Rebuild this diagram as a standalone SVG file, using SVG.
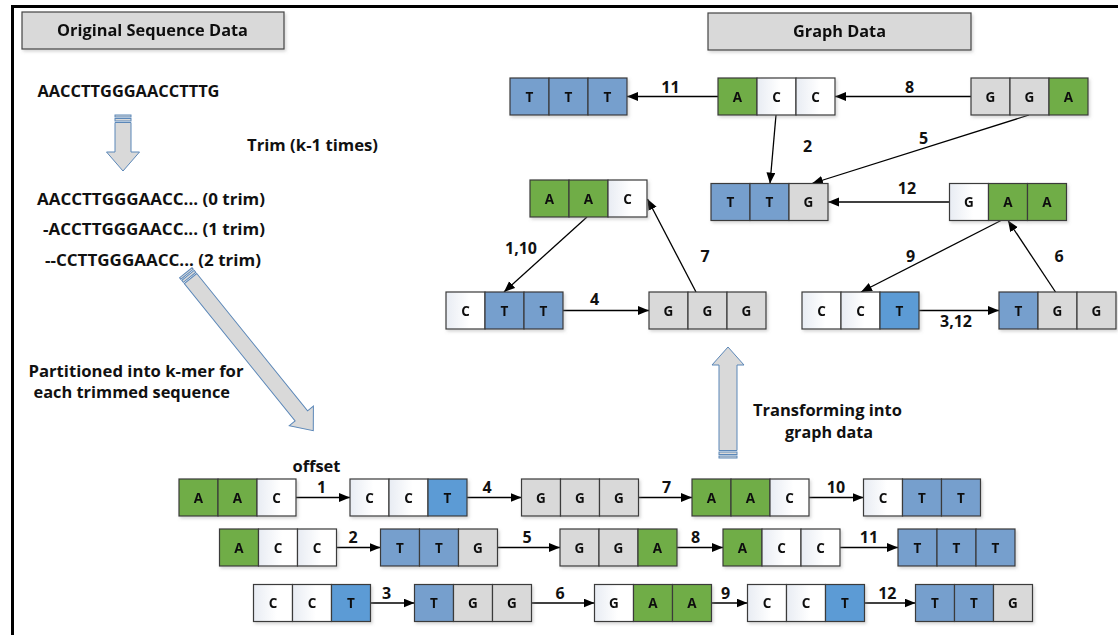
<svg xmlns="http://www.w3.org/2000/svg" width="1118" height="635" viewBox="0 0 1118 635">
  <defs>
    <style>
      text { font-family: "Open Sans", "Noto Sans", "Liberation Sans", sans-serif; font-weight: 700; fill: #111; }
      .cell { stroke: #3a3a3a; stroke-width: 1.2; }
      .cg { fill: #70ad47; }
      .cb { fill: #769fcd; }
      .cbb { fill: #5b9bd5; }
      .cy { fill: #d9d9d9; }
      .cw { fill: url(#whiteCell); }
      .base { font-size: 13.5px; text-anchor: middle; }
      .lbl { font-size: 16px; text-anchor: middle; }
      .cap { font-size: 15.5px; }
      .edge { fill: none; stroke: #000; stroke-width: 1.3; marker-end: url(#head); }
      .block { fill: #d9d9d9; stroke: #5b87b8; stroke-width: 1; }
      .hdr { fill: #d9d9d9; stroke: #444; stroke-width: 1.2; }
    </style>
    <linearGradient id="whiteCell" x1="0" y1="0" x2="1" y2="0">
      <stop offset="0" stop-color="#e8ecf3"/>
      <stop offset="0.6" stop-color="#ffffff"/>
    </linearGradient>
    <filter id="soft" x="-10%" y="-20%" width="130%" height="160%">
      <feDropShadow dx="1.5" dy="2" stdDeviation="1.5" flood-color="#8a8a8a" flood-opacity="0.35"/>
    </filter>
    <marker id="head" markerUnits="userSpaceOnUse" markerWidth="12" markerHeight="10" refX="11" refY="4.5" orient="auto">
      <path d="M0,0 L11,4.5 L0,9 Z" fill="#000"/>
    </marker>
  </defs>

  <rect width="1118" height="635" fill="#fff"/>
  <!-- outer frame (top and left edges) -->
  <path d="M12.5,640 V6.5 H1125" fill="none" stroke="#000" stroke-width="3"/>

  <!-- section headers -->
  <g id="hdr-original" filter="url(#soft)">
    <rect class="hdr" x="22" y="12" width="262" height="37"/>
    <text class="cap" x="57" y="36" textLength="191" lengthAdjust="spacingAndGlyphs">Original Sequence Data</text>
  </g>
  <g id="hdr-graph" filter="url(#soft)">
    <rect class="hdr" x="708" y="13" width="263" height="37"/>
    <text class="cap" x="793" y="37" textLength="93" lengthAdjust="spacingAndGlyphs">Graph Data</text>
  </g>

  <!-- left column: sequence and trimming -->
  <g id="sequence-text">
    <text class="cap" x="37.5" y="97" textLength="182" lengthAdjust="spacingAndGlyphs">AACCTTGGGAACCTTTG</text>
    <text class="cap" x="247" y="151" textLength="131" lengthAdjust="spacingAndGlyphs">Trim (k-1 times)</text>
    <text class="cap" x="37" y="204.5" textLength="228" lengthAdjust="spacingAndGlyphs">AACCTTGGGAACC... (0 trim)</text>
    <text class="cap" x="43" y="234.5" textLength="222" lengthAdjust="spacingAndGlyphs">-ACCTTGGGAACC... (1 trim)</text>
    <text class="cap" x="45" y="266" textLength="216" lengthAdjust="spacingAndGlyphs">--CCTTGGGAACC... (2 trim)</text>
    <text class="cap" x="28.5" y="377" textLength="215" lengthAdjust="spacingAndGlyphs">Partitioned into k-mer for</text>
    <text class="cap" x="33.5" y="398" textLength="196.5" lengthAdjust="spacingAndGlyphs">each trimmed sequence</text>
    <text class="cap" x="753" y="416" textLength="149" lengthAdjust="spacingAndGlyphs">Transforming into</text>
    <text class="cap" x="785" y="437.5" textLength="88" lengthAdjust="spacingAndGlyphs">graph data</text>
    <text class="cap" x="292.5" y="471.5" textLength="48" lengthAdjust="spacingAndGlyphs">offset</text>
  </g>

  <!-- striped block arrows -->
  <g id="block-arrows">
    <g transform="translate(123,115) rotate(90)">
      <rect class="block" x="0" y="-8" width="2" height="16"/>
      <rect class="block" x="3.5" y="-8" width="2.5" height="16"/>
      <path class="block" d="M7.5,-8 H37 V-16.5 L56,0 L37,16.5 V8 H7.5 Z"/>
    </g>
    <g transform="translate(185.8,272.7) rotate(51.1)">
      <rect class="block" x="0" y="-8" width="2" height="16"/>
      <rect class="block" x="3.5" y="-8" width="2.5" height="16"/>
      <path class="block" d="M7.5,-8 H184 V-15.5 L203,0 L184,15.5 V8 H7.5 Z"/>
    </g>
    <g transform="translate(728,458) rotate(-90)">
      <rect class="block" x="0" y="-9" width="2" height="18"/>
      <rect class="block" x="3.5" y="-9" width="2.5" height="18"/>
      <path class="block" d="M7.5,-9 H93 V-16 L111,0 L93,16 V9 H7.5 Z"/>
    </g>
  </g>

  <!-- connectors -->
  <g id="connectors">
    <path class="edge" d="M718,96.5 L627,96.5"/>
    <path class="edge" d="M971,96.5 L835,96.5"/>
    <path class="edge" d="M776,115 L770,183.5"/>
    <path class="edge" d="M1029,115 L812,183.5"/>
    <path class="edge" d="M949.5,202 L828,202"/>
    <path class="edge" d="M587,217 L504,292"/>
    <path class="edge" d="M696,292 L647.5,199"/>
    <path class="edge" d="M563,310.5 L649,310.5"/>
    <path class="edge" d="M1001,220.5 L861,292"/>
    <path class="edge" d="M1055.5,292 L1008,220.5"/>
    <path class="edge" d="M919,310.5 L999,310.5"/>

    <path class="edge" d="M296,497.5 L350,497.5"/>
    <path class="edge" d="M467,497.5 L521.5,497.5"/>
    <path class="edge" d="M638.5,497.5 L692,497.5"/>
    <path class="edge" d="M809,497.5 L863.5,497.5"/>

    <path class="edge" d="M336.5,547.5 L380.5,547.5"/>
    <path class="edge" d="M497.5,547.5 L560,547.5"/>
    <path class="edge" d="M677,547.5 L723,547.5"/>
    <path class="edge" d="M840,547.5 L898,547.5"/>

    <path class="edge" d="M370.5,603 L414.5,603"/>
    <path class="edge" d="M531.5,603 L594.5,603"/>
    <path class="edge" d="M711.5,603 L747.5,603"/>
    <path class="edge" d="M864.5,603 L915.5,603"/>
  </g>

  <!-- connector labels -->
  <g id="edge-labels">
    <text class="lbl" x="670.5" y="93">11</text>
    <text class="lbl" x="909.5" y="93">8</text>
    <text class="lbl" x="807.5" y="152">2</text>
    <text class="lbl" x="923.5" y="144">5</text>
    <text class="lbl" x="907" y="194">12</text>
    <text class="lbl" x="521" y="254">1,10</text>
    <text class="lbl" x="705" y="262">7</text>
    <text class="lbl" x="594.5" y="305">4</text>
    <text class="lbl" x="910.5" y="262">9</text>
    <text class="lbl" x="1059" y="262">6</text>
    <text class="lbl" x="956" y="327">3,12</text>

    <text class="lbl" x="321.7" y="492.5">1</text>
    <text class="lbl" x="487" y="492.5">4</text>
    <text class="lbl" x="666.7" y="492.5">7</text>
    <text class="lbl" x="836" y="492.5">10</text>

    <text class="lbl" x="353" y="542.5">2</text>
    <text class="lbl" x="527" y="542.5">5</text>
    <text class="lbl" x="695.7" y="542.5">8</text>
    <text class="lbl" x="869" y="542.5">11</text>

    <text class="lbl" x="386.7" y="598.5">3</text>
    <text class="lbl" x="560" y="598.5">6</text>
    <text class="lbl" x="725.7" y="598.5">9</text>
    <text class="lbl" x="887.3" y="598.5">12</text>
  </g>

  <!-- graph k-mer nodes -->
  <g id="g-TTT" filter="url(#soft)" transform="translate(510,78)">
    <rect class="cell cb" x="0" y="0" width="39" height="37"/><rect class="cell cb" x="39" y="0" width="39" height="37"/><rect class="cell cb" x="78" y="0" width="39" height="37"/>
    <text class="base" x="19.5" y="23.5">T</text><text class="base" x="58.5" y="23.5">T</text><text class="base" x="97.5" y="23.5">T</text>
  </g>
  <g id="g-ACC" filter="url(#soft)" transform="translate(718,78)">
    <rect class="cell cg" x="0" y="0" width="39" height="37"/><rect class="cell cw" x="39" y="0" width="39" height="37"/><rect class="cell cw" x="78" y="0" width="39" height="37"/>
    <text class="base" x="19.5" y="23.5">A</text><text class="base" x="58.5" y="23.5">C</text><text class="base" x="97.5" y="23.5">C</text>
  </g>
  <g id="g-GGA" filter="url(#soft)" transform="translate(971,78)">
    <rect class="cell cy" x="0" y="0" width="39" height="37"/><rect class="cell cy" x="39" y="0" width="39" height="37"/><rect class="cell cg" x="78" y="0" width="39" height="37"/>
    <text class="base" x="19.5" y="23.5">G</text><text class="base" x="58.5" y="23.5">G</text><text class="base" x="97.5" y="23.5">A</text>
  </g>
  <g id="g-AAC" filter="url(#soft)" transform="translate(530,180)">
    <rect class="cell cg" x="0" y="0" width="39" height="37"/><rect class="cell cg" x="39" y="0" width="39" height="37"/><rect class="cell cw" x="78" y="0" width="39" height="37"/>
    <text class="base" x="19.5" y="23.5">A</text><text class="base" x="58.5" y="23.5">A</text><text class="base" x="97.5" y="23.5">C</text>
  </g>
  <g id="g-TTG" filter="url(#soft)" transform="translate(711,183.5)">
    <rect class="cell cb" x="0" y="0" width="39" height="37"/><rect class="cell cb" x="39" y="0" width="39" height="37"/><rect class="cell cy" x="78" y="0" width="39" height="37"/>
    <text class="base" x="19.5" y="23.5">T</text><text class="base" x="58.5" y="23.5">T</text><text class="base" x="97.5" y="23.5">G</text>
  </g>
  <g id="g-GAA" filter="url(#soft)" transform="translate(949.5,183.5)">
    <rect class="cell cw" x="0" y="0" width="39" height="37"/><rect class="cell cg" x="39" y="0" width="39" height="37"/><rect class="cell cg" x="78" y="0" width="39" height="37"/>
    <text class="base" x="19.5" y="23.5">G</text><text class="base" x="58.5" y="23.5">A</text><text class="base" x="97.5" y="23.5">A</text>
  </g>
  <g id="g-CTT" filter="url(#soft)" transform="translate(446,292)">
    <rect class="cell cw" x="0" y="0" width="39" height="37"/><rect class="cell cb" x="39" y="0" width="39" height="37"/><rect class="cell cb" x="78" y="0" width="39" height="37"/>
    <text class="base" x="19.5" y="23.5">C</text><text class="base" x="58.5" y="23.5">T</text><text class="base" x="97.5" y="23.5">T</text>
  </g>
  <g id="g-GGG" filter="url(#soft)" transform="translate(649,292)">
    <rect class="cell cy" x="0" y="0" width="39" height="37"/><rect class="cell cy" x="39" y="0" width="39" height="37"/><rect class="cell cy" x="78" y="0" width="39" height="37"/>
    <text class="base" x="19.5" y="23.5">G</text><text class="base" x="58.5" y="23.5">G</text><text class="base" x="97.5" y="23.5">G</text>
  </g>
  <g id="g-CCT" filter="url(#soft)" transform="translate(802,292)">
    <rect class="cell cw" x="0" y="0" width="39" height="37"/><rect class="cell cw" x="39" y="0" width="39" height="37"/><rect class="cell cbb" x="78" y="0" width="39" height="37"/>
    <text class="base" x="19.5" y="23.5">C</text><text class="base" x="58.5" y="23.5">C</text><text class="base" x="97.5" y="23.5">T</text>
  </g>
  <g id="g-TGG" filter="url(#soft)" transform="translate(999,292)">
    <rect class="cell cb" x="0" y="0" width="39" height="37"/><rect class="cell cy" x="39" y="0" width="39" height="37"/><rect class="cell cy" x="78" y="0" width="39" height="37"/>
    <text class="base" x="19.5" y="23.5">T</text><text class="base" x="58.5" y="23.5">G</text><text class="base" x="97.5" y="23.5">G</text>
  </g>

  <!-- k-mer rows, offset 0 -->
  <g id="r0-AAC" filter="url(#soft)" transform="translate(179,479)">
    <rect class="cell cg" x="0" y="0" width="39" height="37"/><rect class="cell cg" x="39" y="0" width="39" height="37"/><rect class="cell cw" x="78" y="0" width="39" height="37"/>
    <text class="base" x="19.5" y="23.5">A</text><text class="base" x="58.5" y="23.5">A</text><text class="base" x="97.5" y="23.5">C</text>
  </g>
  <g id="r0-CCT" filter="url(#soft)" transform="translate(350,479)">
    <rect class="cell cw" x="0" y="0" width="39" height="37"/><rect class="cell cw" x="39" y="0" width="39" height="37"/><rect class="cell cbb" x="78" y="0" width="39" height="37"/>
    <text class="base" x="19.5" y="23.5">C</text><text class="base" x="58.5" y="23.5">C</text><text class="base" x="97.5" y="23.5">T</text>
  </g>
  <g id="r0-GGG" filter="url(#soft)" transform="translate(521.5,479)">
    <rect class="cell cy" x="0" y="0" width="39" height="37"/><rect class="cell cy" x="39" y="0" width="39" height="37"/><rect class="cell cy" x="78" y="0" width="39" height="37"/>
    <text class="base" x="19.5" y="23.5">G</text><text class="base" x="58.5" y="23.5">G</text><text class="base" x="97.5" y="23.5">G</text>
  </g>
  <g id="r0-AAC-2" filter="url(#soft)" transform="translate(692,479)">
    <rect class="cell cg" x="0" y="0" width="39" height="37"/><rect class="cell cg" x="39" y="0" width="39" height="37"/><rect class="cell cw" x="78" y="0" width="39" height="37"/>
    <text class="base" x="19.5" y="23.5">A</text><text class="base" x="58.5" y="23.5">A</text><text class="base" x="97.5" y="23.5">C</text>
  </g>
  <g id="r0-CTT" filter="url(#soft)" transform="translate(863.5,479)">
    <rect class="cell cw" x="0" y="0" width="39" height="37"/><rect class="cell cb" x="39" y="0" width="39" height="37"/><rect class="cell cb" x="78" y="0" width="39" height="37"/>
    <text class="base" x="19.5" y="23.5">C</text><text class="base" x="58.5" y="23.5">T</text><text class="base" x="97.5" y="23.5">T</text>
  </g>

  <!-- k-mer rows, offset 1 -->
  <g id="r1-ACC" filter="url(#soft)" transform="translate(219.5,529)">
    <rect class="cell cg" x="0" y="0" width="39" height="37"/><rect class="cell cw" x="39" y="0" width="39" height="37"/><rect class="cell cw" x="78" y="0" width="39" height="37"/>
    <text class="base" x="19.5" y="23.5">A</text><text class="base" x="58.5" y="23.5">C</text><text class="base" x="97.5" y="23.5">C</text>
  </g>
  <g id="r1-TTG" filter="url(#soft)" transform="translate(380.5,529)">
    <rect class="cell cb" x="0" y="0" width="39" height="37"/><rect class="cell cb" x="39" y="0" width="39" height="37"/><rect class="cell cy" x="78" y="0" width="39" height="37"/>
    <text class="base" x="19.5" y="23.5">T</text><text class="base" x="58.5" y="23.5">T</text><text class="base" x="97.5" y="23.5">G</text>
  </g>
  <g id="r1-GGA" filter="url(#soft)" transform="translate(560,529)">
    <rect class="cell cy" x="0" y="0" width="39" height="37"/><rect class="cell cy" x="39" y="0" width="39" height="37"/><rect class="cell cg" x="78" y="0" width="39" height="37"/>
    <text class="base" x="19.5" y="23.5">G</text><text class="base" x="58.5" y="23.5">G</text><text class="base" x="97.5" y="23.5">A</text>
  </g>
  <g id="r1-ACC-2" filter="url(#soft)" transform="translate(723,529)">
    <rect class="cell cg" x="0" y="0" width="39" height="37"/><rect class="cell cw" x="39" y="0" width="39" height="37"/><rect class="cell cw" x="78" y="0" width="39" height="37"/>
    <text class="base" x="19.5" y="23.5">A</text><text class="base" x="58.5" y="23.5">C</text><text class="base" x="97.5" y="23.5">C</text>
  </g>
  <g id="r1-TTT" filter="url(#soft)" transform="translate(898,529)">
    <rect class="cell cb" x="0" y="0" width="39" height="37"/><rect class="cell cb" x="39" y="0" width="39" height="37"/><rect class="cell cb" x="78" y="0" width="39" height="37"/>
    <text class="base" x="19.5" y="23.5">T</text><text class="base" x="58.5" y="23.5">T</text><text class="base" x="97.5" y="23.5">T</text>
  </g>

  <!-- k-mer rows, offset 2 -->
  <g id="r2-CCT" filter="url(#soft)" transform="translate(253.5,584.5)">
    <rect class="cell cw" x="0" y="0" width="39" height="37"/><rect class="cell cw" x="39" y="0" width="39" height="37"/><rect class="cell cbb" x="78" y="0" width="39" height="37"/>
    <text class="base" x="19.5" y="23.5">C</text><text class="base" x="58.5" y="23.5">C</text><text class="base" x="97.5" y="23.5">T</text>
  </g>
  <g id="r2-TGG" filter="url(#soft)" transform="translate(414.5,584.5)">
    <rect class="cell cb" x="0" y="0" width="39" height="37"/><rect class="cell cy" x="39" y="0" width="39" height="37"/><rect class="cell cy" x="78" y="0" width="39" height="37"/>
    <text class="base" x="19.5" y="23.5">T</text><text class="base" x="58.5" y="23.5">G</text><text class="base" x="97.5" y="23.5">G</text>
  </g>
  <g id="r2-GAA" filter="url(#soft)" transform="translate(594.5,584.5)">
    <rect class="cell cw" x="0" y="0" width="39" height="37"/><rect class="cell cg" x="39" y="0" width="39" height="37"/><rect class="cell cg" x="78" y="0" width="39" height="37"/>
    <text class="base" x="19.5" y="23.5">G</text><text class="base" x="58.5" y="23.5">A</text><text class="base" x="97.5" y="23.5">A</text>
  </g>
  <g id="r2-CCT-2" filter="url(#soft)" transform="translate(747.5,584.5)">
    <rect class="cell cw" x="0" y="0" width="39" height="37"/><rect class="cell cw" x="39" y="0" width="39" height="37"/><rect class="cell cbb" x="78" y="0" width="39" height="37"/>
    <text class="base" x="19.5" y="23.5">C</text><text class="base" x="58.5" y="23.5">C</text><text class="base" x="97.5" y="23.5">T</text>
  </g>
  <g id="r2-TTG" filter="url(#soft)" transform="translate(915.5,584.5)">
    <rect class="cell cb" x="0" y="0" width="39" height="37"/><rect class="cell cb" x="39" y="0" width="39" height="37"/><rect class="cell cy" x="78" y="0" width="39" height="37"/>
    <text class="base" x="19.5" y="23.5">T</text><text class="base" x="58.5" y="23.5">T</text><text class="base" x="97.5" y="23.5">G</text>
  </g>
</svg>
